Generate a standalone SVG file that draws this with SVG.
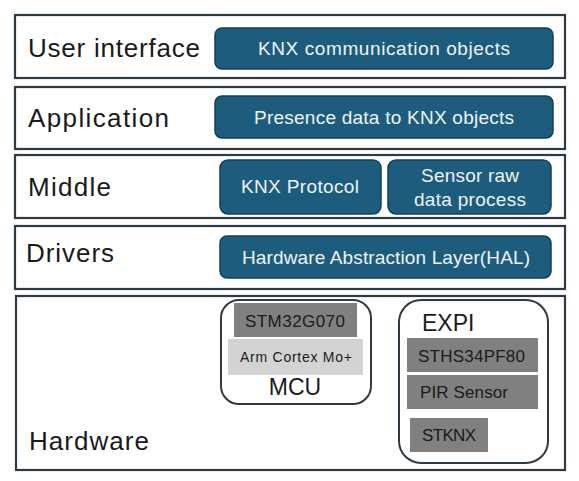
<svg xmlns="http://www.w3.org/2000/svg" width="579" height="481" viewBox="0 0 579 481">
<style>
.layer{fill:#fff;stroke:#2f3b44;stroke-width:2.2}
.lbl{font-family:"Liberation Sans",Arial,sans-serif;font-size:26px;fill:#1a1a1a}
.blue{fill:#1d5c7c;stroke:#123f57;stroke-width:1.5}
.bt{font-family:"Liberation Sans",Arial,sans-serif;font-size:19px;fill:#eef4f8;text-anchor:middle}
.grp{fill:#fff;stroke:#2f3b44;stroke-width:2}
.dg{fill:#808080}
.lg{fill:#d3d3d3}
.gt{font-family:"Liberation Sans",Arial,sans-serif;font-size:17px;fill:#1a1a1a}
.gts{font-family:"Liberation Sans",Arial,sans-serif;font-size:14px;fill:#1a1a1a;text-anchor:middle}
.ht{font-family:"Liberation Sans",Arial,sans-serif;font-size:23px;fill:#1a1a1a}
</style>
<rect width="579" height="481" fill="#fff"/>
<g id="user-interface">
<rect class="layer" x="15" y="15" width="550" height="63"/>
<text class="lbl" x="28" y="57" textLength="172">User interface</text>
<rect class="blue" x="215" y="28" width="338" height="41" rx="7"/>
<text class="bt" x="384" y="55" textLength="252">KNX communication objects</text>
</g>
<g id="application">
<rect class="layer" x="15" y="87" width="550" height="62"/>
<text class="lbl" x="28" y="127" textLength="141">Application</text>
<rect class="blue" x="215" y="96" width="338" height="42" rx="7"/>
<text class="bt" x="384" y="124" textLength="260">Presence data to KNX objects</text>
</g>
<g id="middle">
<rect class="layer" x="15" y="155" width="550" height="63"/>
<text class="lbl" x="28" y="196" textLength="83">Middle</text>
<rect class="blue" x="220" y="160" width="161" height="54" rx="8"/>
<text class="bt" x="300" y="193" textLength="118">KNX Protocol</text>
<rect class="blue" x="388" y="160" width="163" height="54" rx="8"/>
<text class="bt" x="470" y="182" textLength="98">Sensor raw</text>
<text class="bt" x="470" y="206" textLength="112">data process</text>
</g>
<g id="drivers">
<rect class="layer" x="15" y="226" width="550" height="63"/>
<text class="lbl" x="26" y="262" textLength="88">Drivers</text>
<rect class="blue" x="220" y="236" width="331" height="42" rx="7"/>
<text class="bt" x="386" y="264" textLength="288">Hardware Abstraction Layer(HAL)</text>
</g>
<g id="hardware">
<rect class="layer" x="16" y="296" width="549" height="174"/>
<text class="lbl" x="29" y="450" textLength="120">Hardware</text>
</g>
<g id="mcu">
<rect class="grp" x="221" y="300" width="150" height="104" rx="18"/>
<rect class="dg" x="234" y="303" width="123" height="34"/>
<text class="gt" x="295" y="327" text-anchor="middle" textLength="100">STM32G070</text>
<rect class="lg" x="228" y="339" width="135" height="36"/>
<text class="gts" x="296" y="362" textLength="112">Arm Cortex Mo+</text>
<text class="ht" x="295" y="395" text-anchor="middle">MCU</text>
</g>
<g id="expi">
<rect class="grp" x="399" y="300" width="149" height="163" rx="22"/>
<text class="ht" x="422" y="331">EXPI</text>
<rect class="dg" x="407" y="338" width="131" height="34"/>
<text class="gt" x="418" y="362" textLength="107">STHS34PF80</text>
<rect class="dg" x="407" y="375" width="131" height="34"/>
<text class="gt" x="420" y="398" textLength="88">PIR Sensor</text>
<rect class="dg" x="410" y="418" width="78" height="34"/>
<text class="gt" x="422" y="441" textLength="54">STKNX</text>
</g>
<g id="connectors"/>
</svg>
